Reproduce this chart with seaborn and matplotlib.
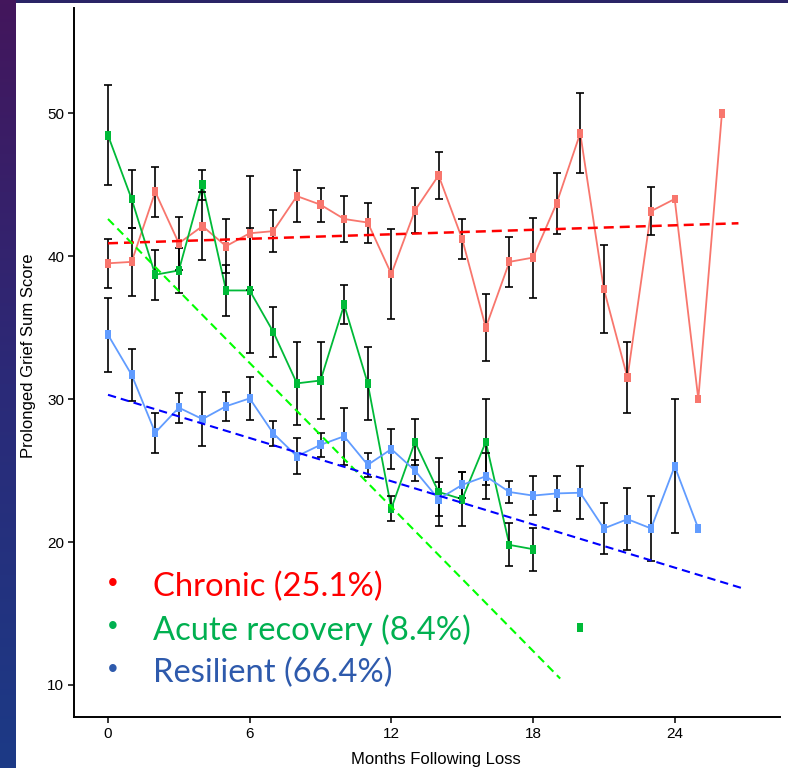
import numpy as np
import pandas as pd
import seaborn as sns
import matplotlib.pyplot as plt
from matplotlib.patches import Rectangle
from matplotlib.colors import LinearSegmentedColormap

# mean scores per month since loss (nan = no value)
months = list(range(27))
nan = np.nan

chronic = [39.5, 39.6, 44.5, 40.9, 42.1, 40.7, 41.6, 41.75, 44.2, 43.6, 42.6, 42.35, 38.75, 43.2,
           45.65, 41.2, 35.0, 39.6, 39.9, 43.7, 48.6, 37.7, 31.5, 43.15, 44.0, 30.0, 50.0]
chronic_err = [1.7, 2.4, 1.75, 1.85, 2.4, 1.9, 4.0, 1.45, 1.8, 1.2, 1.6, 1.4, 3.15, 1.55,
               1.65, 1.4, 2.35, 1.75, 2.8, 2.15, 2.8, 3.05, 2.5, 1.7, nan, nan, nan]

acute = [48.45, 44.0, 38.7, 39.0, 45.0, 37.6, 37.6, 34.7, 31.1, 31.3, 36.6, 31.1, 22.35, 27.0,
         23.5, 23.0, 27.0, 19.8, 19.5, nan, 14.0, nan, nan, nan, nan, nan, nan]
acute_err = [3.5, 2.0, 1.75, 1.6, 1.05, 1.8, 4.4, 1.75, 2.9, 2.7, 1.35, 2.55, 0.85, 1.6,
             2.4, 1.9, 3.0, 1.5, 1.5, nan, nan, nan, nan, nan, nan, nan, nan]

resilient = [34.5, 31.7, 27.65, 29.4, 28.6, 29.5, 30.05, 27.6, 26.0, 26.8, 27.4, 25.4, 26.5, 25.0,
             23.0, 24.0, 24.6, 23.5, 23.25, 23.4, 23.45, 20.95, 21.6, 20.95, 25.3, 20.95, nan]
resilient_err = [2.6, 1.8, 1.4, 1.05, 1.9, 1.0, 1.5, 0.9, 1.25, 0.85, 2.0, 0.85, 1.4, 0.75,
                 1.2, 0.9, 1.6, 0.8, 1.35, 1.2, 1.85, 1.8, 2.15, 2.3, 4.7, nan, nan]

# linear trend lines (start / end points)
chronic_trend_x, chronic_trend_y = [0, 26.7], [40.9, 42.3]
acute_trend_x, acute_trend_y = [0, 19.15], [42.6, 10.45]
resilient_trend_x, resilient_trend_y = [0, 27.0], [30.3, 16.7]

groups = ['Chronic', 'Acute recovery', 'Resilient']
legend_labels = ['Chronic (25.1%)', 'Acute recovery (8.4%)', 'Resilient (66.4%)']

pal = {'Chronic': '#F8766D', 'Acute recovery': '#00BA38', 'Resilient': '#619CFF'}
trend_cols = {'Chronic': '#FF0000', 'Acute recovery': '#00FF00', 'Resilient': '#0000FF'}
text_cols = ['#FF0000', '#00B050', '#2E5AAC']

frames = []
for g, vals, errs in zip(groups, [chronic, acute, resilient], [chronic_err, acute_err, resilient_err]):
    d = pd.DataFrame({'month': months, 'score': vals, 'err': errs, 'group': g})
    d = d.dropna(subset=['score'])
    d['seg'] = (d['month'].diff() > 1).cumsum()  # break the line where a month is missing
    frames.append(d)
df = pd.concat(frames, ignore_index=True)

sns.set_theme(style='ticks')
plt.rcParams['font.family'] = ['Liberation Sans', 'DejaVu Sans']

fig = plt.figure(figsize=(7.88, 7.68), dpi=100)
fig.patch.set_facecolor('#2a2466')

# slide background: gradient strip on the left, white page
grad_ax = fig.add_axes([0, 0, 16 / 788, 1])
grad = np.linspace(0, 1, 256)[:, None]
grad_ax.imshow(grad, aspect='auto', extent=[0, 1, 0, 1], origin='upper',
               cmap=LinearSegmentedColormap.from_list('slide', ['#43165c', '#2b2a78', '#1c3a86']))
grad_ax.axis('off')
fig.add_artist(Rectangle((16 / 788, 0), 1, 1 - 3 / 768, transform=fig.transFigure,
                         facecolor='white', edgecolor='none', zorder=0))

ax = fig.add_axes([74 / 788, 1 - 717 / 768, (780 - 74) / 788, (717 - 8) / 768])
ax.patch.set_alpha(0)

sns.lineplot(data=df, x='month', y='score', hue='group', units='seg', estimator=None,
             palette=pal, linewidth=1.3, legend=False, ax=ax, zorder=2)

for g in groups:
    d = df[df['group'] == g]
    ax.errorbar(d['month'], d['score'], yerr=d['err'], fmt='none', ecolor='black',
                elinewidth=1.2, capsize=2.6, capthick=1.2, zorder=3)

rect_marker = [(-0.7, -1), (0.7, -1), (0.7, 1), (-0.7, 1)]
sns.scatterplot(data=df, x='month', y='score', hue='group', palette=pal, marker=rect_marker,
                s=40, linewidth=0, legend=False, ax=ax, zorder=4)

for g, tx, ty in zip(groups, [chronic_trend_x, acute_trend_x, resilient_trend_x],
                     [chronic_trend_y, acute_trend_y, resilient_trend_y]):
    lw = 1.8 if g == 'Chronic' else 1.5
    ax.plot(tx, ty, color=trend_cols[g], linewidth=lw, dashes=(4, 2.4), zorder=5)

ax.set_xlim(-1.44, 28.46)
ax.set_ylim(7.76, 57.36)
ax.set_xticks([0, 6, 12, 18, 24])
ax.set_yticks([10, 20, 30, 40, 50])
ax.tick_params(direction='out', length=4, width=1.1, labelsize=11, colors='black', pad=3)
for s in ['top', 'right']:
    ax.spines[s].set_visible(False)
for s in ['left', 'bottom']:
    ax.spines[s].set_linewidth(1.4)
    ax.spines[s].set_color('black')

ax.set_xlabel('Months Following Loss', fontsize=12, color='black')
ax.set_ylabel('Prolonged Grief Sum Score', fontsize=12, color='black')
ax.xaxis.set_label_coords(0.513, -0.049)
ax.yaxis.set_label_coords(-0.054, 0.509)

# in-plot legend written as slide text
for i, (lab, col) in enumerate(zip(legend_labels, text_cols)):
    yc = 1 - (584 + 43 * i) / 768
    fig.text(113 / 788, yc, '\u2022', color=col, fontsize=20, ha='center', va='center')
    fig.text(153 / 788, yc - 3 / 768, lab, color=col, fontsize=23.6, ha='left', va='center',
             family=['Lato', 'DejaVu Sans'])

fig.savefig('out.png', dpi=100, facecolor=fig.get_facecolor())
